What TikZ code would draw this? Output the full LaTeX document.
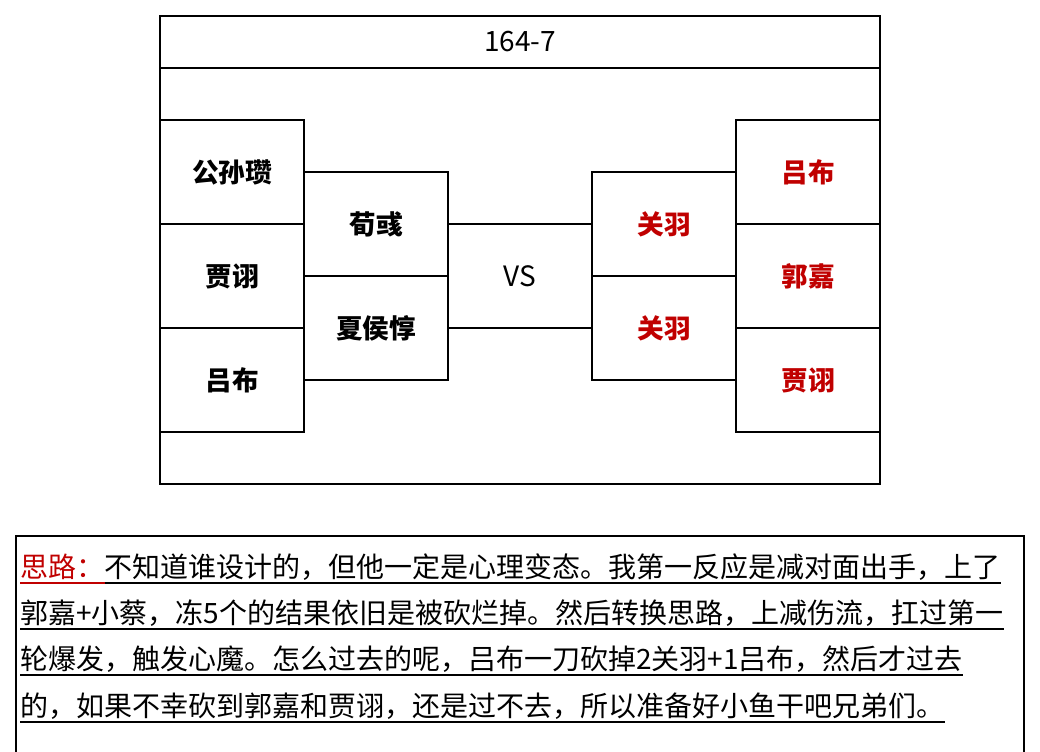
\documentclass[tikz,border=0pt]{standalone}
\usepackage{fontspec}
\newfontfamily\cjk{Noto Sans CJK SC}
\usetikzlibrary{calc}
\definecolor{redtxt}{RGB}{192,0,0}
\tikzset{
  frame/.style={draw=black, line width=1.5pt},
  box/.style={draw=black, line width=1.5pt, minimum width=108pt, minimum height=78pt, inner sep=0pt, font=\cjk\bfseries\fontsize{20}{20}\selectfont},
  redbox/.style={box, text=redtxt},
  conn/.style={draw=black, line width=1.5pt},
  plain/.style={inner sep=0pt, font=\cjk\fontsize{21}{21}\selectfont},
  para/.style={inner sep=0pt, anchor=base west, font=\cjk\fontsize{21}{21}\selectfont},
  uline/.style={line width=1.2pt}
}
\begin{document}
\begin{tikzpicture}[x=0.75pt,y=-0.75pt]
\useasboundingbox (0,0) rectangle (1040,752);
% outer frame
\draw[frame] (160,16) rectangle (880,484);
\draw[frame] (160,68) -- (880,68);
\node[plain] (title) at (520,42) {164-7};
% left side
\node[box] (gsz) at (232,172) {公孙瓒};
\node[box] (jx1) at (232,276) {贾诩};
\node[box] (lb1) at (232,380) {吕布};
\node[box] (xy) at (376,224) {荀彧};
\node[box] (xhd) at (376,328) {夏侯惇};
% right side
\node[redbox] (gy1) at (664,224) {关羽};
\node[redbox] (gy2) at (664,328) {关羽};
\node[redbox] (lb2) at (808,172) {吕布};
\node[redbox] (gj) at (808,276) {郭嘉};
\node[redbox] (jx2) at (808,380) {贾诩};
% connectors
\draw[conn] (xy.east) -- (gy1.west);
\draw[conn] (xhd.east) -- (gy2.west);
\node[plain] (vs) at (520,276) {VS};
% text box
\draw[frame] (16,760) -- (16,536) -- (1024,536) -- (1024,760);
\node[para, text=redtxt] (r1) at (20,577) {思路：};
\node[para] (l1) at (r1.base east) {不知道谁设计的，但他一定是心理变态。我第一反应是减对面出手，上了};
\node[para] (l2) at (20,623) {郭嘉+小蔡，冻5个的结果依旧是被砍烂掉。然后转换思路，上减伤流，扛过第一};
\node[para] (l3) at (20,669) {轮爆发，触发心魔。怎么过去的呢，吕布一刀砍掉2关羽+1吕布，然后才过去};
\node[para] (l4) at (20,716) {的，如果不幸砍到郭嘉和贾诩，还是过不去，所以准备好小鱼干吧兄弟们。};
\draw[uline, redtxt] ($(r1.base west)+(0,6)$) -- ($(r1.base east)+(0,6)$);
\draw[uline] ($(l1.base west)+(0,6)$) -- ($(l1.base east)+(0,6)$);
\draw[uline] ($(l2.base west)+(0,6)$) -- ($(l2.base east)+(0,6)$);
\draw[uline] ($(l3.base west)+(0,6)$) -- ($(l3.base east)+(0,6)$);
\draw[uline] ($(l4.base west)+(0,6)$) -- ($(l4.base east)+(0,6)$);
\end{tikzpicture}
\end{document}
